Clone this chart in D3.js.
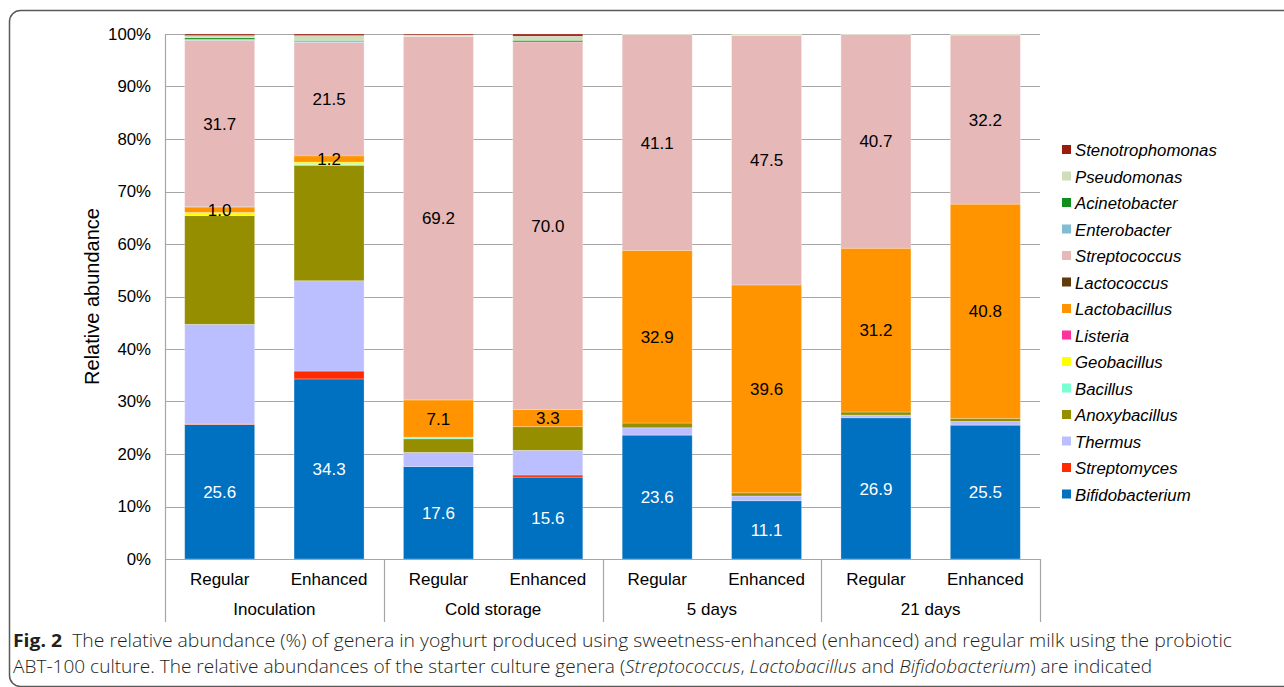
<!DOCTYPE html>
<html>
<head>
<meta charset="utf-8">
<script src="https://cdn.jsdelivr.net/npm/d3@7"></script>
<style>
  html, body { margin: 0; padding: 0; background: #fff; }
  svg { display: block; }
</style>
</head>
<body>
<svg id="chart" width="1284" height="687"></svg>
<script>
// ---------- DATA ----------
const categories = ["Regular", "Enhanced", "Regular", "Enhanced", "Regular", "Enhanced", "Regular", "Enhanced"];
const groups = ["Inoculation", "Cold storage", "5 days", "21 days"];
const yTicks = [0, 10, 20, 30, 40, 50, 60, 70, 80, 90, 100];

// bottom-to-top stacking order
const seriesNames = ["Bifidobacterium", "Streptomyces", "Thermus", "Anoxybacillus", "Bacillus", "Geobacillus",
  "Listeria", "Lactobacillus", "Lactococcus", "Streptococcus", "Enterobacter", "Acinetobacter",
  "Pseudomonas", "Stenotrophomonas"];

const bifidobacterium  = [25.6, 34.3, 17.6, 15.6, 23.6, 11.1, 26.9, 25.5];
const streptomyces     = [0.1, 1.5, 0.0, 0.4, 0.0, 0.0, 0.0, 0.0];
const thermus          = [19.0, 17.2, 2.7, 4.7, 1.4, 0.9, 0.5, 0.7];
const anoxybacillus    = [20.7, 22.0, 2.6, 4.5, 0.9, 0.6, 0.6, 0.6];
const bacillus         = [0.0, 0.2, 0.3, 0.0, 0.0, 0.0, 0.0, 0.0];
const geobacillus      = [0.6, 0.4, 0.0, 0.0, 0.0, 0.0, 0.0, 0.0];
const listeria         = [0.0, 0.0, 0.0, 0.0, 0.0, 0.0, 0.0, 0.0];
const lactobacillus    = [1.0, 1.2, 7.1, 3.3, 32.9, 39.6, 31.2, 40.8];
const lactococcus      = [0.1, 0.1, 0.0, 0.0, 0.0, 0.0, 0.0, 0.0];
const streptococcus    = [31.7, 21.5, 69.2, 70.0, 41.1, 47.5, 40.7, 32.2];
const enterobacter     = [0.2, 0.3, 0.0, 0.0, 0.0, 0.0, 0.0, 0.0];
const acinetobacter    = [0.3, 0.1, 0.0, 0.3, 0.0, 0.0, 0.0, 0.0];
const pseudomonas      = [0.4, 0.9, 0.3, 0.8, 0.1, 0.3, 0.1, 0.2];
const stenotrophomonas = [0.3, 0.3, 0.2, 0.4, 0.0, 0.0, 0.0, 0.0];

const seriesValues = [bifidobacterium, streptomyces, thermus, anoxybacillus, bacillus, geobacillus,
  listeria, lactobacillus, lactococcus, streptococcus, enterobacter, acinetobacter,
  pseudomonas, stenotrophomonas];

const seriesColors = ["#0070c0", "#ff2a00", "#bcbfff", "#948e00", "#78ffd2", "#ffff00",
  "#ff3399", "#ff9300", "#613a0a", "#e6b8b7", "#80bcd2", "#10901a", "#d0ddbc", "#991c0e"];

const labelledSeries = ["Bifidobacterium", "Lactobacillus", "Streptococcus"];

// ---------- LAYOUT ----------
const svg = d3.select("#chart");
const plotLeft = 165, plotRight = 1040, plotTop = 34, plotBottom = 559;
const FONT = "'Liberation Sans', Arial, sans-serif";
const FS = 17;

// frame
svg.append("rect")
  .attr("x", 9.5).attr("y", 10.5)
  .attr("width", 1320).attr("height", 676)
  .attr("rx", 11).attr("ry", 11)
  .attr("fill", "none").attr("stroke", "#5a5a5a").attr("stroke-width", 1.5);

const keys = categories.map((c, i) => i);
const x = d3.scaleBand().domain(keys).range([plotLeft, plotRight]).paddingInner(0.36).paddingOuter(0.18);
const y = d3.scaleLinear().domain([0, 100]).range([plotBottom, plotTop]);

// gridlines
svg.append("g").selectAll("line").data(yTicks).join("line")
  .attr("x1", plotLeft).attr("x2", plotRight)
  .attr("y1", d => Math.round(y(d)) + 0.5).attr("y2", d => Math.round(y(d)) + 0.5)
  .attr("stroke", "#a6a6a6").attr("stroke-width", 1.2);

// left axis line
svg.append("line")
  .attr("x1", plotLeft + 0.5).attr("x2", plotLeft + 0.5)
  .attr("y1", plotTop).attr("y2", plotBottom)
  .attr("stroke", "#a6a6a6").attr("stroke-width", 1.2);

// y tick labels via axis
const yAxis = d3.axisLeft(y).tickValues(yTicks).tickFormat(d => d + "%").tickSize(0).tickPadding(14);
const yg = svg.append("g").attr("transform", `translate(${plotLeft},0)`).call(yAxis);
yg.select(".domain").remove();
yg.selectAll("text").attr("font-family", FONT).attr("font-size", 16.8).attr("fill", "#000");

// stacked data
const table = keys.map(i => {
  const row = { key: i };
  seriesNames.forEach((s, k) => row[s] = seriesValues[k][i]);
  return row;
});
const stacked = d3.stack().keys(seriesNames)(table);

const layers = svg.append("g").selectAll("g").data(stacked).join("g")
  .attr("fill", (d, i) => seriesColors[i]);
layers.selectAll("rect").data(d => d).join("rect")
  .attr("x", d => x(d.data.key))
  .attr("width", x.bandwidth())
  .attr("y", d => y(d[1]))
  .attr("height", d => Math.max(0, y(d[0]) - y(d[1])))
  .attr("stroke", "#ffffff").attr("stroke-opacity", 0.35).attr("stroke-width", 0.8);

// value labels
stacked.forEach(layer => {
  if (!labelledSeries.includes(layer.key)) return;
  svg.append("g").selectAll("text").data(layer).join("text")
    .attr("x", d => x(d.data.key) + x.bandwidth() / 2)
    .attr("y", d => (y(d[0]) + y(d[1])) / 2)
    .attr("dy", "0.36em")
    .attr("text-anchor", "middle")
    .attr("font-family", FONT).attr("font-size", FS)
    .attr("fill", layer.key === "Bifidobacterium" ? "#ffffff" : "#000000")
    .text(d => (d[1] - d[0]).toFixed(1));
});

// x axis line
svg.append("line")
  .attr("x1", plotLeft).attr("x2", plotRight)
  .attr("y1", plotBottom + 0.5).attr("y2", plotBottom + 0.5)
  .attr("stroke", "#a6a6a6").attr("stroke-width", 1.2);

// category labels
svg.append("g").selectAll("text").data(keys).join("text")
  .attr("x", d => x(d) + x.bandwidth() / 2)
  .attr("y", 585)
  .attr("text-anchor", "middle")
  .attr("font-family", FONT).attr("font-size", FS)
  .text(d => categories[d]);

// group separators and labels
const step = x.step();
const groupEdges = d3.range(groups.length + 1).map(g => plotLeft + g * 2 * step);
svg.append("g").selectAll("line").data(groupEdges).join("line")
  .attr("x1", d => Math.round(d) + 0.5).attr("x2", d => Math.round(d) + 0.5)
  .attr("y1", plotBottom).attr("y2", 622)
  .attr("stroke", "#a6a6a6").attr("stroke-width", 1.2);
svg.append("g").selectAll("text").data(groups).join("text")
  .attr("x", (d, g) => plotLeft + (g * 2 + 1) * step)
  .attr("y", 615)
  .attr("text-anchor", "middle")
  .attr("font-family", FONT).attr("font-size", FS)
  .text(d => d);

// y axis title
svg.append("text")
  .attr("transform", `translate(99,${(plotTop + plotBottom) / 2}) rotate(-90)`)
  .attr("text-anchor", "middle")
  .attr("font-family", FONT).attr("font-size", 20)
  .text("Relative abundance");

// legend (top to bottom = reverse stack)
const legendOrder = seriesNames.map((s, i) => i).reverse();
const lg = svg.append("g").selectAll("g").data(legendOrder).join("g")
  .attr("transform", (d, i) => `translate(1062,${150 + i * 26.5})`);
lg.append("rect").attr("x", 0).attr("y", -5).attr("width", 9).attr("height", 9)
  .attr("fill", d => seriesColors[d]);
lg.append("text").attr("x", 13).attr("y", 0).attr("dy", "0.36em")
  .attr("font-family", FONT).attr("font-size", 16.8).attr("font-style", "italic")
  .text(d => seriesNames[d]);

// caption
const CAP = "'Liberation Sans Narrow', 'Open Sans', 'Liberation Sans', Arial, sans-serif";
const cap1 = svg.append("text").attr("x", 13).attr("y", 647)
  .attr("font-family", CAP).attr("font-size", 18).attr("fill", "#231f20")
  .attr("textLength", 1219).attr("lengthAdjust", "spacingAndGlyphs");
cap1.append("tspan").attr("font-weight", "bold").text("Fig. 2");
cap1.append("tspan").attr("font-weight", 300).text("\u00a0 The relative abundance (%) of genera in yoghurt produced using sweetness-enhanced (enhanced) and regular milk using the probiotic");

const cap2 = svg.append("text").attr("x", 13).attr("y", 673)
  .attr("font-family", CAP).attr("font-size", 18).attr("font-weight", 300).attr("fill", "#231f20")
  .attr("textLength", 1139).attr("lengthAdjust", "spacingAndGlyphs");
cap2.append("tspan").text("ABT-100 culture. The relative abundances of the starter culture genera (");
cap2.append("tspan").attr("font-style", "italic").text("Streptococcus");
cap2.append("tspan").text(", ");
cap2.append("tspan").attr("font-style", "italic").text("Lactobacillus");
cap2.append("tspan").text(" and ");
cap2.append("tspan").attr("font-style", "italic").text("Bifidobacterium");
cap2.append("tspan").text(") are indicated");
</script>
</body>
</html>
